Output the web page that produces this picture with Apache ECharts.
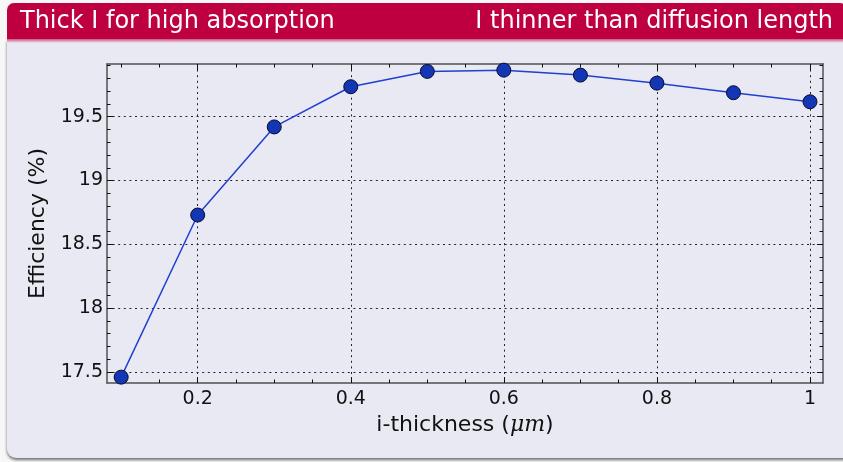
<!DOCTYPE html>
<html>
<head>
<meta charset="utf-8">
<script src="https://cdn.jsdelivr.net/npm/echarts@6/dist/echarts.min.js"></script>
<style>
html,body{margin:0;padding:0;background:#f7f7f7;}
#c{width:843px;height:462px;}
</style>
</head>
<body>
<div id="c"></div>
<script>
const headerLeft = 'Thick I for high absorption';
const headerRight = 'I thinner than diffusion length';
const xValues = [0.1, 0.2, 0.3, 0.4, 0.5, 0.6, 0.7, 0.8, 0.9, 1.0];
const efficiency = [17.46, 18.73, 19.42, 19.735, 19.855, 19.865, 19.826, 19.763, 19.688, 19.617];
const xMajorTicks = [0.2, 0.4, 0.6, 0.8, 1.0];
const xMinorTicks = [0.1, 0.15, 0.2, 0.25, 0.3, 0.35, 0.4, 0.45, 0.5, 0.55, 0.6, 0.65, 0.7, 0.75, 0.8, 0.85, 0.9, 0.95, 1.0];
const yMajorTicks = [17.5, 18, 18.5, 19, 19.5];
const yMinorTicks = [17.5, 17.6, 17.7, 17.8, 17.9, 18, 18.1, 18.2, 18.3, 18.4, 18.5, 18.6, 18.7, 18.8, 18.9, 19, 19.1, 19.2, 19.3, 19.4, 19.5, 19.6, 19.7, 19.8, 19.9];
const xName = 'i-thickness ({m|μm})';
const yName = 'Efficiency (%)';

const xMin = 0.0815, xMax = 1.017, yMin = 17.414, yMax = 19.913;
const FONT = 'DejaVu Sans';
const AX = '#505050';
const GRID_LINE = {show: true, lineStyle: {color: '#222', width: 1, type: [2, 3.6]}};

function xAxisDef(pos, ticks, len, opts) {
  return Object.assign({
    type: 'value', position: pos, min: xMin, max: xMax, gridIndex: 0,
    axisLine: {show: false},
    axisTick: {show: true, inside: true, length: len, customValues: ticks, lineStyle: {color: '#111', width: 1}},
    axisLabel: {show: false},
    splitLine: {show: false}
  }, opts || {});
}
function yAxisDef(pos, ticks, len, opts) {
  return Object.assign({
    type: 'value', position: pos, min: yMin, max: yMax, gridIndex: 0,
    axisLine: {show: false},
    axisTick: {show: true, inside: true, length: len, customValues: ticks, lineStyle: {color: '#111', width: 1}},
    axisLabel: {show: false},
    splitLine: {show: false}
  }, opts || {});
}

const chart = echarts.init(document.getElementById('c'), null, {renderer: 'canvas'});
chart.setOption({
  backgroundColor: '#f7f7f7',
  animation: false,
  textStyle: {fontFamily: FONT},
  graphic: [
    {type: 'rect', z: -10, shape: {x: 7, y: 40, width: 840, height: 418, r: [0, 0, 0, 9]},
     style: {fill: '#e9e9f3', shadowBlur: 3, shadowOffsetY: 2, shadowColor: 'rgba(0,0,0,0.55)'}, silent: true},
    {type: 'rect', z: -9, shape: {x: 7, y: 3, width: 840, height: 36, r: [7, 7, 0, 0]},
     style: {fill: '#bf0040'}, silent: true},
    {type: 'rect', z: -9, shape: {x: 7, y: 39, width: 840, height: 4},
     style: {fill: new echarts.graphic.LinearGradient(0, 0, 0, 1, [{offset: 0, color: '#d0557f'}, {offset: 1, color: '#e9e9f3'}])}, silent: true},
    {type: 'text', z: -8, style: {x: 20, y: 22, text: headerLeft, fill: '#ffffff', font: '24px "DejaVu Sans"', verticalAlign: 'middle', align: 'left'}},
    {type: 'text', z: -8, style: {x: 833, y: 22, text: headerRight, fill: '#ffffff', font: '24px "DejaVu Sans"', verticalAlign: 'middle', align: 'right'}}
  ],
  grid: {left: 107, top: 64, width: 716, height: 319, containLabel: false, outerBoundsMode: 'none', show: false},
  xAxis: [
    xAxisDef('bottom', xMajorTicks, 6, {
      axisLine: {show: true, onZero: false, lineStyle: {color: AX, width: 1.5}},
      axisLabel: {show: true, customValues: xMajorTicks, margin: 7, color: '#111', fontSize: 19, fontFamily: FONT},
      splitLine: GRID_LINE,
      name: xName, nameLocation: 'middle', nameGap: 30,
      nameTextStyle: {color: '#111', fontSize: 22, fontFamily: FONT,
        rich: {m: {fontStyle: 'italic', fontFamily: 'DejaVu Serif', fontSize: 22, color: '#111'}}}
    }),
    xAxisDef('bottom', xMinorTicks, 3.5),
    xAxisDef('top', xMajorTicks, 6, {axisLine: {show: true, onZero: false, lineStyle: {color: AX, width: 1.5}}}),
    xAxisDef('top', xMinorTicks, 3.5)
  ],
  yAxis: [
    yAxisDef('left', yMajorTicks, 6, {
      axisLine: {show: true, onZero: false, lineStyle: {color: AX, width: 1.5}},
      axisLabel: {show: true, customValues: yMajorTicks, margin: 4, color: '#111', fontSize: 19, fontFamily: FONT},
      splitLine: GRID_LINE,
      name: yName, nameLocation: 'middle', nameGap: 58,
      nameTextStyle: {color: '#111', fontSize: 22, fontFamily: FONT}
    }),
    yAxisDef('left', yMinorTicks, 3.5),
    yAxisDef('right', yMajorTicks, 6, {axisLine: {show: true, onZero: false, lineStyle: {color: AX, width: 1.5}}}),
    yAxisDef('right', yMinorTicks, 3.5)
  ],
  series: [{
    type: 'line',
    xAxisIndex: 0, yAxisIndex: 0,
    data: xValues.map((x, i) => [x, efficiency[i]]),
    symbol: 'circle', symbolSize: 14,
    lineStyle: {color: '#2040d0', width: 1.5},
    itemStyle: {color: '#1336b4', borderColor: '#0a0a30', borderWidth: 1},
    z: 10
  }]
});
</script>
</body>
</html>
